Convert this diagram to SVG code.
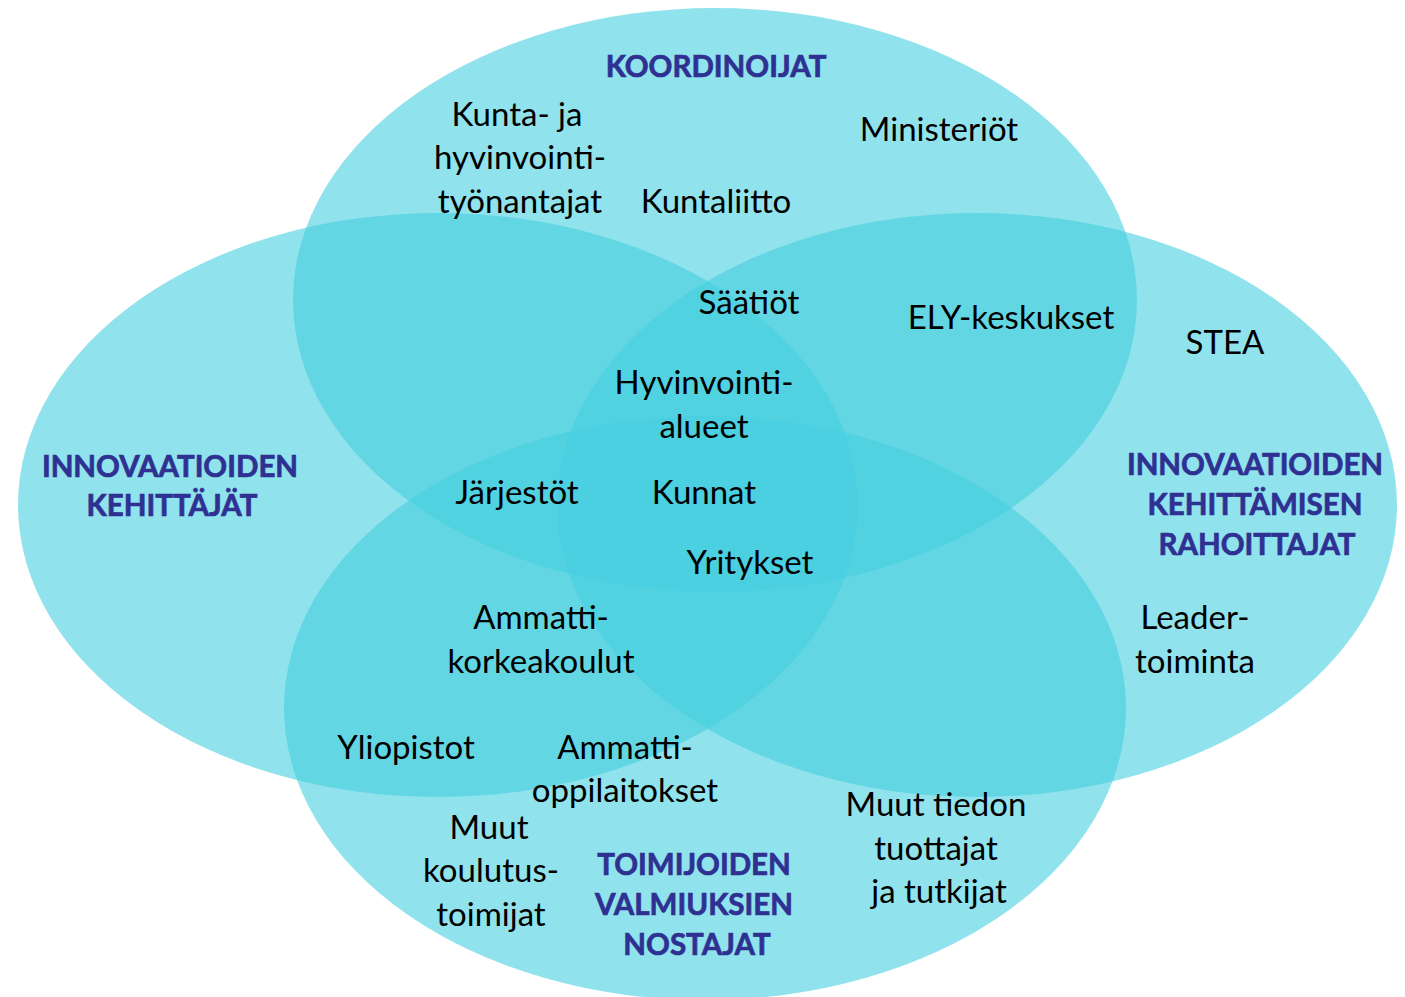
<svg xmlns="http://www.w3.org/2000/svg" width="1405" height="997" viewBox="0 0 1405 997">
<style>
.set{fill:#46cee0;fill-opacity:0.6}
text{font-family:"Lato","Noto Sans","Liberation Sans",sans-serif;text-anchor:middle}
.t{font-size:33px;fill:#000}
.h{font-size:29.5px;font-weight:bold;fill:#2e3192;stroke:#2e3192;stroke-width:0.7}
</style>
<rect width="1405" height="997" fill="#fff"/>
<g id="sets">
<ellipse id="koordinoijat" class="set" cx="715" cy="300" rx="422" ry="292"/>
<ellipse id="kehittajat" class="set" cx="438" cy="505" rx="420" ry="292"/>
<ellipse id="rahoittajat" class="set" cx="977" cy="505" rx="420" ry="292"/>
<ellipse id="nostajat" class="set" cx="705" cy="708" rx="421" ry="292"/>
</g>
<g id="connectors"/>
<g id="headings">
<text class="h" x="716" y="77">KOORDINOIJAT</text>
<text class="h" x="170" y="477">INNOVAATIOIDEN</text>
<text class="h" x="172" y="516">KEHITTÄJÄT</text>
<text class="h" x="1255" y="475">INNOVAATIOIDEN</text>
<text class="h" x="1255" y="515">KEHITTÄMISEN</text>
<text class="h" x="1257" y="555">RAHOITTAJAT</text>
<text class="h" x="694" y="875">TOIMIJOIDEN</text>
<text class="h" x="694" y="915">VALMIUKSIEN</text>
<text class="h" x="697" y="955">NOSTAJAT</text>
</g>
<g id="members">
<text class="t" x="517" y="126">Kunta- ja</text>
<text class="t" x="520" y="169">hyvinvointi-</text>
<text class="t" x="520" y="213">työnantajat</text>
<text class="t" x="939" y="141">Ministeriöt</text>
<text class="t" x="716" y="213">Kuntaliitto</text>
<text class="t" x="749" y="314">Säätiöt</text>
<text class="t" x="1011" y="329">ELY-keskukset</text>
<text class="t" x="1225" y="354">STEA</text>
<text class="t" x="704" y="394">Hyvinvointi-</text>
<text class="t" x="704" y="438">alueet</text>
<text class="t" x="517" y="504">Järjestöt</text>
<text class="t" x="704" y="504">Kunnat</text>
<text class="t" x="750" y="574">Yritykset</text>
<text class="t" x="541" y="629">Ammatti-</text>
<text class="t" x="541" y="673">korkeakoulut</text>
<text class="t" x="1195" y="629">Leader-</text>
<text class="t" x="1195" y="673">toiminta</text>
<text class="t" x="406" y="759">Yliopistot</text>
<text class="t" x="625" y="759">Ammatti-</text>
<text class="t" x="625" y="802">oppilaitokset</text>
<text class="t" x="936" y="816">Muut tiedon</text>
<text class="t" x="936" y="860">tuottajat</text>
<text class="t" x="939" y="903">ja tutkijat</text>
<text class="t" x="489" y="839">Muut</text>
<text class="t" x="491" y="882">koulutus-</text>
<text class="t" x="491" y="926">toimijat</text>
</g>
</svg>
